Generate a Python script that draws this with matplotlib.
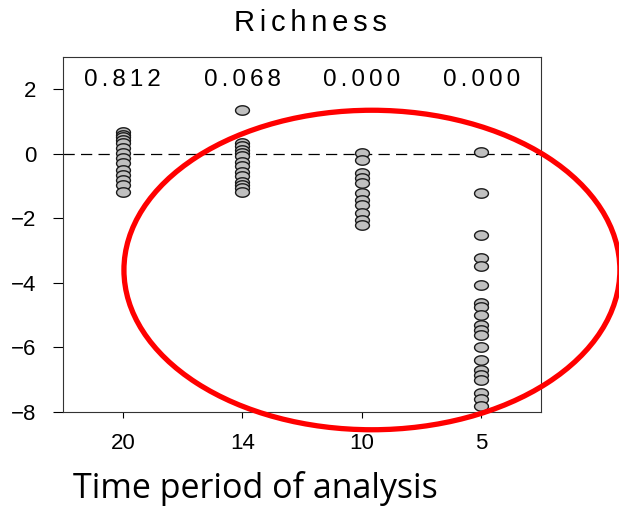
import numpy as np
import matplotlib.pyplot as plt
from matplotlib.path import Path
from matplotlib.patches import Ellipse

# Time periods and their p-values
periods = ['20', '14', '10', '5']
p_values = ['0.812', '0.068', '0.000', '0.000']

# Richness change values per period
vals_20 = [0.69, 0.59, 0.52, 0.43, 0.33, 0.18, 0.02, -0.13, -0.29, -0.50, -0.65, -0.81, -0.96, -1.17]
vals_14 = [1.37, 0.33, 0.23, 0.12, 0.02, -0.08, -0.24, -0.39, -0.55, -0.70, -0.86, -0.96, -1.07, -1.17]
vals_10 = [0.02, -0.19, -0.60, -0.75, -0.91, -1.22, -1.43, -1.58, -1.84, -2.05, -2.20]
vals_5 = [0.07, -1.20, -2.50, -3.24, -3.48, -4.07, -4.62, -4.74, -5.00, -5.31, -5.45, -5.62,
          -6.00, -6.40, -6.71, -6.86, -7.02, -7.41, -7.59, -7.80]
all_vals = [vals_20, vals_14, vals_10, vals_5]

plt.rcParams['font.family'] = ['Liberation Sans', 'DejaVu Sans']

HAIR = '\u200a'  # used to mimic the letter spacing of the original


def spaced(s, sep=HAIR):
    return sep.join(s)


# flattened ellipse marker, like SigmaPlot's
t = np.linspace(0, 2 * np.pi, 40)
ell_marker = Path(np.column_stack([np.cos(t), 0.68 * np.sin(t)]), closed=True)

fig = plt.figure(figsize=(6.19, 5.09), dpi=100)
ax = fig.add_axes([63 / 619, 1 - 412 / 509, 478 / 619, 355 / 509])

for i, vals in enumerate(all_vals):
    ax.plot([i] * len(vals), vals, linestyle='none', marker=ell_marker, markersize=10,
            markerfacecolor='#c0c0c0', markeredgecolor='#1a1a1a', markeredgewidth=1.0, zorder=3)
    ax.text(i, 2.3, spaced(p_values[i], HAIR + HAIR), ha='center', va='center', fontsize=17.5)

ax.axhline(0, color='black', linestyle=(0, (9, 5)), linewidth=0.9, zorder=1)

ax.set_xlim(-0.5, 3.5)
ax.set_ylim(-8, 3)
ax.set_xticks(range(len(periods)))
ax.set_xticklabels(periods)
ax.set_yticks([2, 0, -2, -4, -6, -8])
ax.tick_params(direction='out', width=0.8, labelsize=16)
ax.tick_params(axis='y', length=7, pad=12)
ax.tick_params(axis='x', length=4, pad=11)
for s in ax.spines.values():
    s.set_linewidth(0.8)
    s.set_color('#333333')

fig.text(310 / 619, 1 - 23 / 509, spaced('Richness', HAIR + HAIR), fontsize=21,
         ha='center', va='center')

# red ellipse annotation
ax.add_patch(Ellipse((2.085, -3.6), 4.15, 9.9, fill=False, edgecolor='red',
                     linewidth=3.8, clip_on=False, zorder=4))

fig.text(73 / 619, 1 - 488 / 509, 'Time period of analysis', fontsize=24.5,
         family=['Open Sans', 'DejaVu Sans'], ha='left', va='center')

fig.savefig('out.png', dpi=100)
